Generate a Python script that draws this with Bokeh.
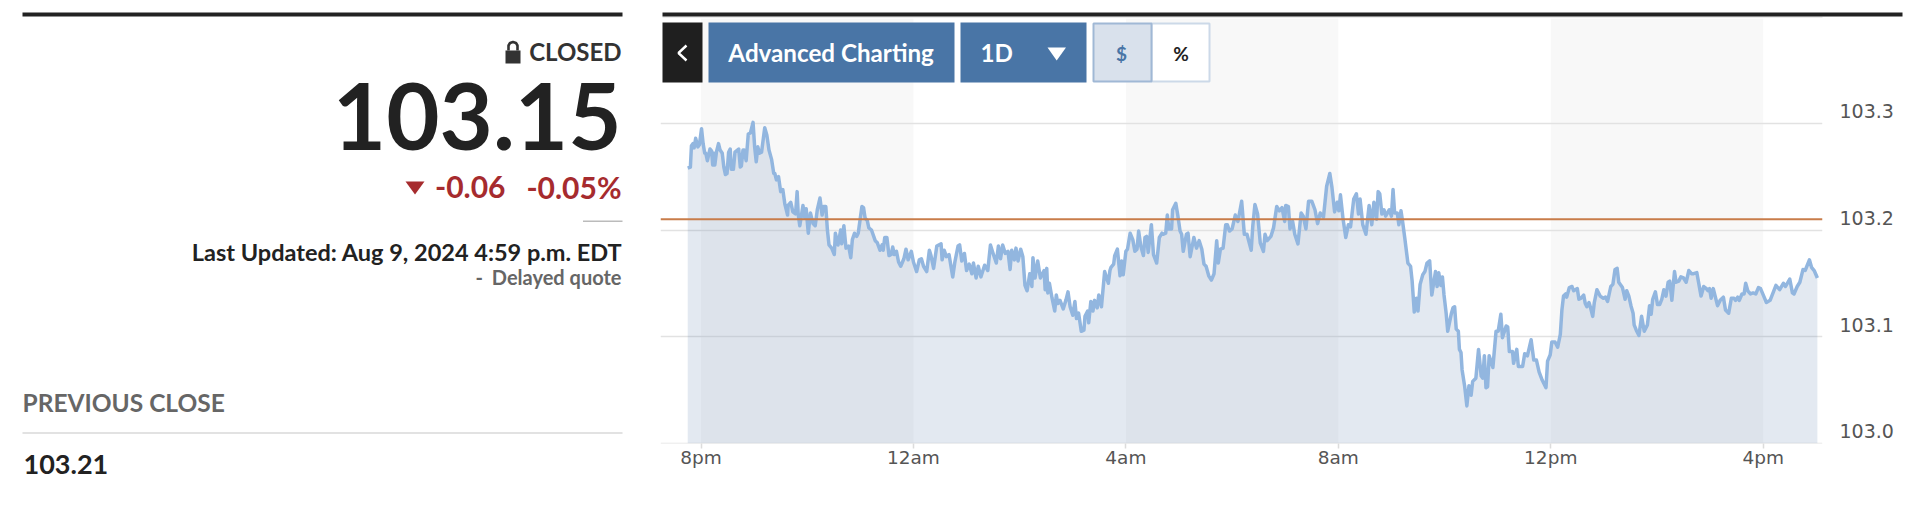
from bokeh.embed import file_html
from bokeh.resources import INLINE
from bokeh.plotting import figure
from bokeh.layouts import row, column
from bokeh.core.properties import value
from bokeh.models import (Range1d, LinearAxis, FixedTicker, Grid, ColumnDataSource, BoxAnnotation, Span,
                          NumeralTickFormatter)

hours = [
-0.25,-0.20,-0.18,-0.15,-0.13,-0.10,-0.06,-0.03,0.01,0.04,
0.07,0.09,0.12,0.17,0.20,0.22,0.24,0.26,0.29,0.33,
0.36,0.40,0.43,0.46,0.49,0.52,0.55,0.57,0.61,0.64,
0.71,0.74,0.76,0.79,0.81,0.85,0.89,0.93,0.98,1.01,
1.04,1.07,1.10,1.14,1.20,1.24,1.28,1.33,1.37,1.39,
1.42,1.46,1.50,1.54,1.58,1.63,1.64,1.69,1.73,1.78,
1.81,1.83,1.86,1.92,1.95,1.98,2.02,2.06,2.11,2.15,
2.19,2.24,2.28,2.31,2.35,2.38,2.41,2.46,2.51,2.53,
2.58,2.63,2.65,2.69,2.73,2.78,2.82,2.85,2.89,2.93,
2.96,3.03,3.06,3.09,3.13,3.16,3.21,3.28,3.32,3.37,
3.41,3.43,3.46,3.50,3.54,3.58,3.61,3.64,3.68,3.72,
3.76,3.82,3.86,3.90,3.96,4.00,4.06,4.11,4.15,4.19,
4.25,4.30,4.33,4.38,4.44,4.52,4.54,4.58,4.62,4.67,
4.74,4.78,4.84,4.87,4.91,4.96,5.00,5.05,5.10,5.13,
5.18,5.22,5.27,5.34,5.40,5.45,5.50,5.56,5.60,5.64,
5.68,5.73,5.78,5.82,5.85,5.90,5.93,5.97,6.02,6.06,
6.10,6.14,6.19,6.23,6.25,6.29,6.34,6.39,6.46,6.48,
6.51,6.53,6.56,6.61,6.66,6.69,6.72,6.76,6.82,6.87,
6.91,6.95,7.00,7.04,7.07,7.11,7.16,7.21,7.23,7.28,
7.30,7.34,7.38,7.41,7.46,7.49,7.54,7.60,7.67,7.70,
7.72,7.77,7.79,7.84,7.89,7.92,7.95,8.00,8.03,8.08,
8.13,8.17,8.21,8.24,8.28,8.33,8.36,8.39,8.42,8.48,
8.52,8.58,8.63,8.68,8.70,8.75,8.78,8.81,8.86,8.88,
8.94,8.98,9.02,9.05,9.08,9.14,9.17,9.21,9.28,9.33,
9.38,9.43,9.47,9.51,9.56,9.61,9.66,9.71,9.74,9.78,
9.83,9.88,9.91,9.95,10.00,10.06,10.11,10.18,10.23,10.28,
10.36,10.39,10.43,10.48,10.53,10.59,10.62,10.66,10.73,10.78,
10.84,10.89,10.94,10.99,11.01,11.06,11.09,11.14,11.18,11.24,
11.30,11.34,11.39,11.44,11.50,11.56,11.61,11.66,11.72,11.78,
11.84,11.88,11.93,11.98,12.01,12.04,12.09,12.14,12.19,12.23,
12.29,12.34,12.38,12.41,12.46,12.52,12.58,12.63,12.67,12.72,
12.75,12.78,12.82,12.86,12.89,12.96,13.00,13.03,13.06,13.11,
13.14,13.18,13.21,13.25,13.31,13.36,13.39,13.43,13.47,13.50,
13.54,13.59,13.63,13.67,13.72,13.76,13.83,13.86,13.89,13.93,
13.96,13.99,14.03,14.06,14.13,14.16,14.19,14.22,14.26,14.28,
14.31,14.33,14.38,14.42,14.46,14.50,14.53,14.59,14.64,14.69,
14.72,14.75,14.78,14.81,14.84,14.91,14.97,15.01,15.06,15.09,
15.16,15.19,15.22,15.28,15.30,15.36,15.39,15.47,15.51,15.56,
15.63,15.68,15.73,15.78,15.84,15.91,15.94,15.99,16.02,16.08,
16.13,16.18,16.21,16.24,16.28,16.30,16.35,16.40,16.43,16.50,
16.53,16.57,16.62,16.65,16.68,16.72,16.75,16.79,16.82,16.87,
16.93,16.99,17.03,17.07,17.13,17.17,17.21,17.25,17.28,17.35,
17.40,17.43,17.47,17.51,17.55,17.57,17.61,17.66,17.71,17.76,
17.82,17.86,17.89,17.92,17.97,18.01,18.05,18.09,18.13,18.17,
18.21,18.24,18.28,18.33,18.36,18.41,18.45,18.50,18.55,18.60,
18.65,18.69,18.75,18.79,18.83,18.88,18.93,18.96,18.99,19.02,
19.06,19.10,19.14,19.19,19.25,19.29,19.35,19.40,19.45,19.48,
19.52,19.55,19.60,19.64,19.67,19.71,19.76,19.81,19.86,19.91,
19.95,20.01,20.06,20.13,20.24,20.31,20.38,20.42,20.50,20.55,
20.58,20.64,20.69,20.75,20.79,20.87,20.91,20.96,21.02,
]

price = [
103.258,103.259,103.279,103.281,103.277,103.286,103.278,103.280,103.295,103.281,
103.272,103.272,103.265,103.276,103.274,103.261,103.272,103.261,103.273,103.281,
103.275,103.272,103.259,103.252,103.253,103.273,103.276,103.257,103.257,103.273,
103.276,103.259,103.260,103.275,103.275,103.265,103.290,103.291,103.301,103.278,
103.264,103.278,103.272,103.273,103.296,103.289,103.275,103.266,103.253,103.253,
103.247,103.250,103.236,103.238,103.224,103.214,103.223,103.226,103.217,103.215,
103.236,103.215,103.204,103.223,103.212,103.220,103.197,103.216,103.206,103.204,
103.219,103.230,103.214,103.222,103.222,103.200,103.186,103.183,103.177,103.197,
103.186,103.200,103.187,103.204,103.183,103.185,103.174,103.191,103.197,103.194,
103.197,103.222,103.221,103.211,103.209,103.202,103.200,103.190,103.188,103.181,
103.186,103.181,103.193,103.193,103.176,103.177,103.184,103.177,103.180,103.170,
103.166,103.173,103.182,103.172,103.180,103.170,103.161,103.172,103.173,103.166,
103.161,103.181,103.176,103.164,103.185,103.187,103.172,103.181,103.175,103.177,
103.156,103.170,103.185,103.186,103.171,103.178,103.162,103.168,103.159,103.169,
103.155,103.166,103.156,103.167,103.162,103.186,103.178,103.169,103.185,103.173,
103.186,103.178,103.180,103.163,103.181,103.172,103.183,103.171,103.182,103.175,
103.148,103.143,103.159,103.147,103.174,103.155,103.171,103.155,103.162,103.144,
103.164,103.141,103.150,103.136,103.124,103.139,103.131,103.134,103.126,103.134,
103.142,103.128,103.120,103.133,103.117,103.122,103.105,103.106,103.119,103.124,
103.113,103.133,103.124,103.134,103.127,103.139,103.128,103.161,103.150,103.162,
103.165,103.168,103.176,103.182,103.157,103.171,103.158,103.180,103.182,103.197,
103.191,103.180,103.182,103.199,103.185,103.176,103.193,103.194,103.179,103.205,
103.177,103.169,103.193,103.197,103.196,103.197,103.214,103.201,103.201,103.219,
103.225,103.213,103.199,103.196,103.180,103.196,103.197,103.175,103.193,103.183,
103.190,103.182,103.168,103.166,103.157,103.153,103.159,103.190,103.169,103.182,
103.183,103.205,103.205,103.199,103.201,103.214,103.208,103.227,103.196,103.196,
103.181,103.204,103.224,103.215,103.188,103.180,103.196,103.190,103.194,103.202,
103.222,103.218,103.221,103.208,103.223,103.222,103.201,103.208,103.196,103.187,
103.216,103.213,103.201,103.227,103.227,103.219,103.206,103.216,103.212,103.241,
103.253,103.240,103.217,103.226,103.218,103.233,103.210,103.193,103.205,103.203,
103.229,103.234,103.215,103.229,103.205,103.196,103.223,103.205,103.226,103.210,
103.236,103.234,103.215,103.219,103.213,103.219,103.213,103.238,103.216,103.216,
103.205,103.218,103.208,103.193,103.169,103.166,103.152,103.123,103.136,103.124,
103.149,103.158,103.161,103.169,103.171,103.139,103.161,103.147,103.160,103.148,
103.156,103.139,103.122,103.105,103.122,103.127,103.128,103.107,103.105,103.088,
103.085,103.069,103.053,103.035,103.054,103.045,103.058,103.061,103.088,103.063,
103.061,103.082,103.052,103.053,103.082,103.071,103.105,103.105,103.121,103.099,
103.110,103.109,103.086,103.086,103.075,103.088,103.072,103.072,103.084,103.082,
103.097,103.078,103.078,103.067,103.059,103.052,103.077,103.083,103.095,103.095,
103.090,103.102,103.125,103.138,103.140,103.137,103.146,103.147,103.143,103.145,
103.135,103.136,103.139,103.131,103.128,103.132,103.127,103.119,103.132,103.144,
103.138,103.136,103.137,103.133,103.147,103.149,103.163,103.164,103.151,103.146,
103.135,103.143,103.138,103.129,103.122,103.111,103.106,103.101,103.119,103.105,
103.111,103.129,103.121,103.135,103.142,103.130,103.130,103.135,103.144,103.138,
103.151,103.152,103.134,103.161,103.151,103.152,103.156,103.155,103.151,103.162,
103.159,103.159,103.160,103.149,103.138,103.147,103.145,103.143,103.145,103.136,
103.145,103.137,103.129,103.134,103.137,103.125,103.122,103.136,103.136,103.134,
103.137,103.134,103.140,103.140,103.150,103.143,103.140,103.141,103.140,103.146,
103.145,103.138,103.132,103.134,103.148,103.144,103.150,103.147,103.154,103.141,
103.140,103.147,103.151,103.163,103.162,103.172,103.165,103.162,103.155,
]

base_price = 103.0
previous_close = 103.21
y_ticks = [103.0, 103.1, 103.2, 103.3]
x_ticks = [0, 4, 8, 12, 16, 20]
x_tick_labels = ["8pm", "12am", "4am", "8am", "12pm", "4pm"]
band_start = [0, 8, 16]
band_end = [4, 12, 20]

INK = "#222222"
GREY = "#666666"
RED = "#a62b2e"
BLUE = "#4975a6"

# ---------- left panel: page pixel coordinates ----------
W_L, H = 660, 498
left = figure(width=W_L, height=H, x_range=Range1d(0, 660), y_range=Range1d(498, 0),
              x_axis_location=None, y_axis_location=None, toolbar_location=None,
              output_backend="svg", min_border=0, outline_line_color=None)
left.xgrid.visible = False
left.ygrid.visible = False
left.frame_align = False


def ltext(x, y, s, size, color=INK, align="right", style="bold", font="Lato"):
    left.text([x], [y], text=[s], text_font=value(font), text_font_size=f"{size}px",
              text_font_style=style, text_color=color, text_align=align, text_baseline="middle")


left.quad(left=[22], right=[622], top=[12], bottom=[16], fill_color=INK, line_color=None)
# lock icon
left.quad(left=[505], right=[520], top=[50], bottom=[63], fill_color="#333333", line_color=None)
left.line([508, 508, 509.5, 512.5, 515.5, 517, 517], [50, 45, 42.5, 41.5, 42.5, 45, 50],
          line_color="#333333", line_width=2.6)
ltext(621, 51, "CLOSED", 24, "#333333")
ltext(621, 116, "103.15", 92)
left.patch([405, 424, 414.5], [181, 181, 194], fill_color=RED, line_color=None)
ltext(505, 186.5, "-0.06", 30, RED)
ltext(621, 186.5, "-0.05%", 30, RED)
left.quad(left=[582.5], right=[622], top=[220], bottom=[221.5], fill_color="#bbbbbb", line_color=None)
ltext(622, 251.5, "Last Updated: Aug 9, 2024 4:59 p.m. EDT", 23.5)
ltext(475, 276.5, "-", 20, GREY, align="left")
ltext(621, 276.5, "Delayed quote", 20, GREY)
ltext(22, 402, "PREVIOUS CLOSE", 24.5, GREY, align="left")
left.quad(left=[22], right=[622], top=[431.5], bottom=[433.5], fill_color="#e2e2e2", line_color=None)
ltext(23, 464, "103.21", 27, align="left")

# ---------- chart ----------
W_R = 1912 - W_L
PX_PER_HOUR = 53.11
PX_PER_UNIT = 1066.0
x0 = -(700.5 - 660) / PX_PER_HOUR
x1 = (1822 - 700.5) / PX_PER_HOUR
y0 = base_price - 0.3 / PX_PER_UNIT
y1 = y0 + (443 - 18) / PX_PER_UNIT

rule = figure(width=W_R, height=18, x_range=Range1d(660, 1912), y_range=Range1d(18, 0),
              x_axis_location=None, y_axis_location=None, toolbar_location=None,
              output_backend="svg", min_border=0, outline_line_color=None)
rule.xgrid.visible = False
rule.ygrid.visible = False
rule.frame_align = False
rule.quad(left=[662], right=[1822], top=[16], bottom=[18], fill_color="#ececec", line_color=None)
rule.quad(left=[662], right=[1902], top=[12], bottom=[16], fill_color=INK, line_color=None)

p = figure(width=W_R, height=H - 18, x_range=Range1d(x0, x1), y_range=Range1d(y0, y1),
           x_axis_location="below", y_axis_location=None, toolbar_location=None,
           output_backend="svg", min_border_left=0, min_border_right=90,
           min_border_top=0, min_border_bottom=55, outline_line_color=None)
p.xgrid.visible = False
p.ygrid.visible = False
p.frame_align = False

p.extra_x_ranges["px"] = Range1d(660, 1822)
p.extra_y_ranges["px"] = Range1d(443, 18)
shift = 12 / PX_PER_UNIT
p.extra_y_ranges["lab"] = Range1d(y0 - shift, y1 - shift)

for a, b in zip(band_start, band_end):
    p.add_layout(BoxAnnotation(left=a, right=b, fill_color="#f8f8f8", fill_alpha=1,
                               line_color=None, level="underlay"))

p.add_layout(Grid(dimension=1, ticker=FixedTicker(ticks=y_ticks), grid_line_color="#e2e2e2",
                  grid_line_width=1.5, level="underlay"))

src = ColumnDataSource(dict(h=hours, price=price, base=[base_price] * len(hours)))
p.varea("h", "base", "price", source=src, fill_color="#4e76a8", fill_alpha=0.16)
p.line("h", "price", source=src, line_color="#92b6df", line_width=3.5, line_join="round")
p.add_layout(Span(location=previous_close, dimension="width", line_color="#c87c4a", line_width=2))

ax = p.xaxis[0]
ax.ticker = FixedTicker(ticks=x_ticks)
ax.major_label_overrides = dict(zip(x_ticks, x_tick_labels))
ax.axis_line_color = None
ax.major_tick_line_color = "#dcdcdc"
ax.major_tick_line_width = 1.5
ax.major_tick_out = 5
ax.major_tick_in = 0
ax.minor_tick_line_color = None
ax.major_label_standoff = -2
ax.major_label_text_font = "DejaVu Sans"
ax.major_label_text_font_size = "18.5px"
ax.major_label_text_color = "#555555"

ay = LinearAxis(y_range_name="lab", ticker=FixedTicker(ticks=y_ticks),
                formatter=NumeralTickFormatter(format="0.0"))
ay.axis_line_color = None
ay.major_tick_line_color = None
ay.minor_tick_line_color = None
ay.major_label_standoff = 11
ay.major_label_text_font = "DejaVu Sans"
ay.major_label_text_font_size = "19px"
ay.major_label_text_color = "#555555"
p.add_layout(ay, "right")

PX = dict(x_range_name="px", y_range_name="px")
p.quad(left=[662], right=[702], top=[22], bottom=[82], fill_color="#1f1f1f", line_color=None, **PX)
p.line([686, 678, 686], [45, 52.5, 60], line_color="white", line_width=2.4, **PX)
p.quad(left=[708, 960], right=[954, 1086], top=[22, 22], bottom=[82, 82], fill_color=BLUE, line_color=None, **PX)
p.text([830.6], [52], text=["Advanced Charting"], text_font=value("Lato"), text_font_size="24.2px",
       text_font_style="bold", text_color="white", text_align="center", text_baseline="middle", **PX)
p.text([980], [52], text=["1D"], text_font=value("Lato"), text_font_size="24.2px",
       text_font_style="bold", text_color="white", text_align="left", text_baseline="middle", **PX)
p.patch([1047, 1065.5, 1056.2], [47, 47, 60], fill_color="white", line_color=None, **PX)
p.quad(left=[1151], right=[1209], top=[23], bottom=[81], fill_color="white", line_color="#ccd9e8", line_width=2, **PX)
p.quad(left=[1093], right=[1151], top=[23], bottom=[81], fill_color="#d9e1ec", line_color="#a0b8d5", line_width=2, **PX)
p.text([1121], [52.5], text=["$"], text_font=value("Lato"), text_font_size="19px", text_font_style="bold",
       text_color=BLUE, text_align="center", text_baseline="middle", **PX)
p.text([1180.6], [52.5], text=["%"], text_font=value("Lato"), text_font_size="19px", text_font_style="bold",
       text_color="#222222", text_align="center", text_baseline="middle", **PX)

open("out.html", "w").write(file_html(row(left, column(rule, p, spacing=0), spacing=0), INLINE))
